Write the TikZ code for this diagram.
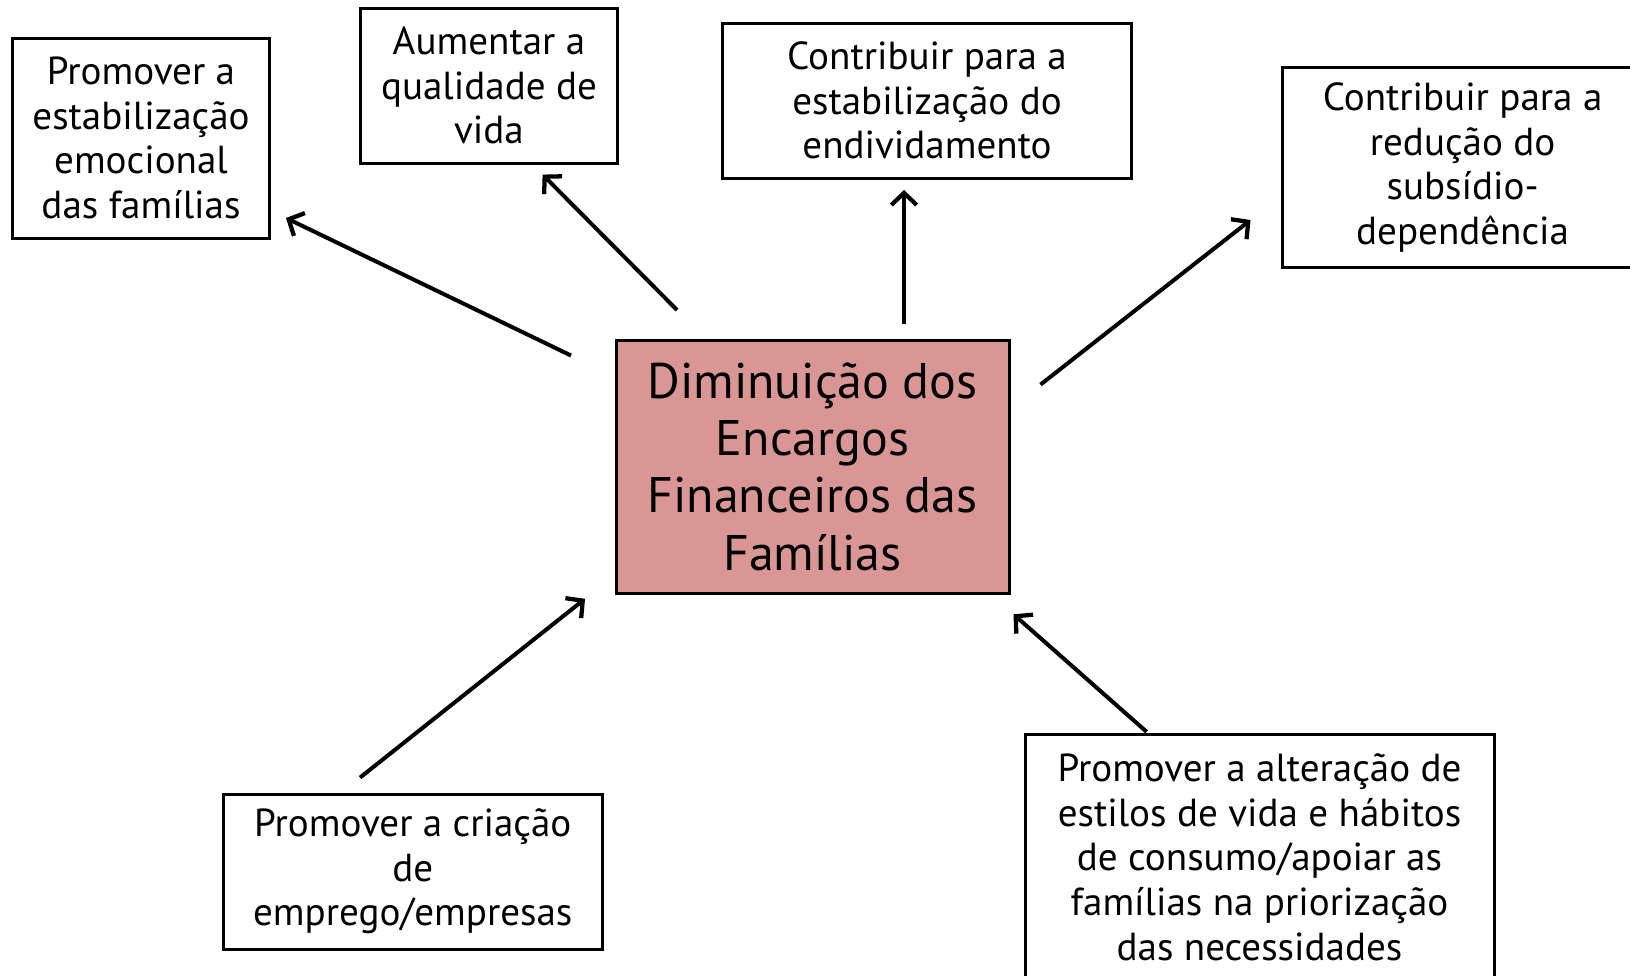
\documentclass[tikz,border=0pt]{standalone}
\usepackage{fontspec}
\setmainfont{PT Sans}
\usetikzlibrary{arrows.meta}
\definecolor{boxred}{HTML}{D99694}
\begin{document}
\begin{tikzpicture}[x=0.75pt,y=-0.75pt,
  box/.style={draw=black,line width=2.25pt,fill=white,align=center,inner sep=0pt,
    font=\fontsize{29.3}{33.5}\selectfont},
  mainbox/.style={box,fill=boxred,font=\fontsize{37.5}{43}\selectfont},
  arr/.style={line width=3pt,-{Straight Barb[length=9pt,width=19pt,line width=3.2pt]}}]
\useasboundingbox (0,0) rectangle (1630,975);
\clip (0,0) rectangle (1630,975);
\node[box,minimum width=192.75pt,minimum height=150pt] (b1) at (141,138) {Promover a\\estabilização\\emocional\\das famílias};
\node[box,minimum width=192.75pt,minimum height=116.25pt] (b2) at (489,85.6) {Aumentar a\\qualidade de\\vida};
\node[box,minimum width=306.75pt,minimum height=116.25pt] (b3) at (927,100.5) {Contribuir para a\\estabilização do\\endividamento};
\node[box,minimum width=270.75pt,minimum height=150pt] (b4) at (1462.6,167.5) {Contribuir para a\\redução do\\subsídio-\\dependência};
\node[mainbox,minimum width=294.75pt,minimum height=189.75pt] (c) at (812.5,466.5) {Diminuição dos\\Encargos\\Financeiros das\\Famílias};
\node[box,minimum width=283.9pt,minimum height=116.25pt] (b5) at (412.75,871.5) {Promover a criação\\de\\emprego/empresas};
\node[box,minimum width=351.75pt,minimum height=184.5pt] (b6) at (1259.5,857) {Promover a alteração de\\estilos de vida e hábitos\\de consumo/apoiar as\\famílias na priorização\\das necessidades};
\coordinate (s1) at (571,355.5); \coordinate (e1) at (286,218);
\coordinate (s2) at (677,310);   \coordinate (e2) at (542.6,174.6);
\coordinate (s3) at (904,324);   \coordinate (e3) at (904,190);
\coordinate (s4) at (1040.5,384.6); \coordinate (e4) at (1250.5,220);
\coordinate (s5) at (360,777.6); \coordinate (e5) at (585,598.8);
\coordinate (s6) at (1146.6,731.8); \coordinate (e6) at (1013.5,614.3);
\draw[arr] (s1) -- (e1);
\draw[arr] (s2) -- (e2);
\draw[arr] (s3) -- (e3);
\draw[arr] (s4) -- (e4);
\draw[arr] (s5) -- (e5);
\draw[arr] (s6) -- (e6);
\end{tikzpicture}
\end{document}
